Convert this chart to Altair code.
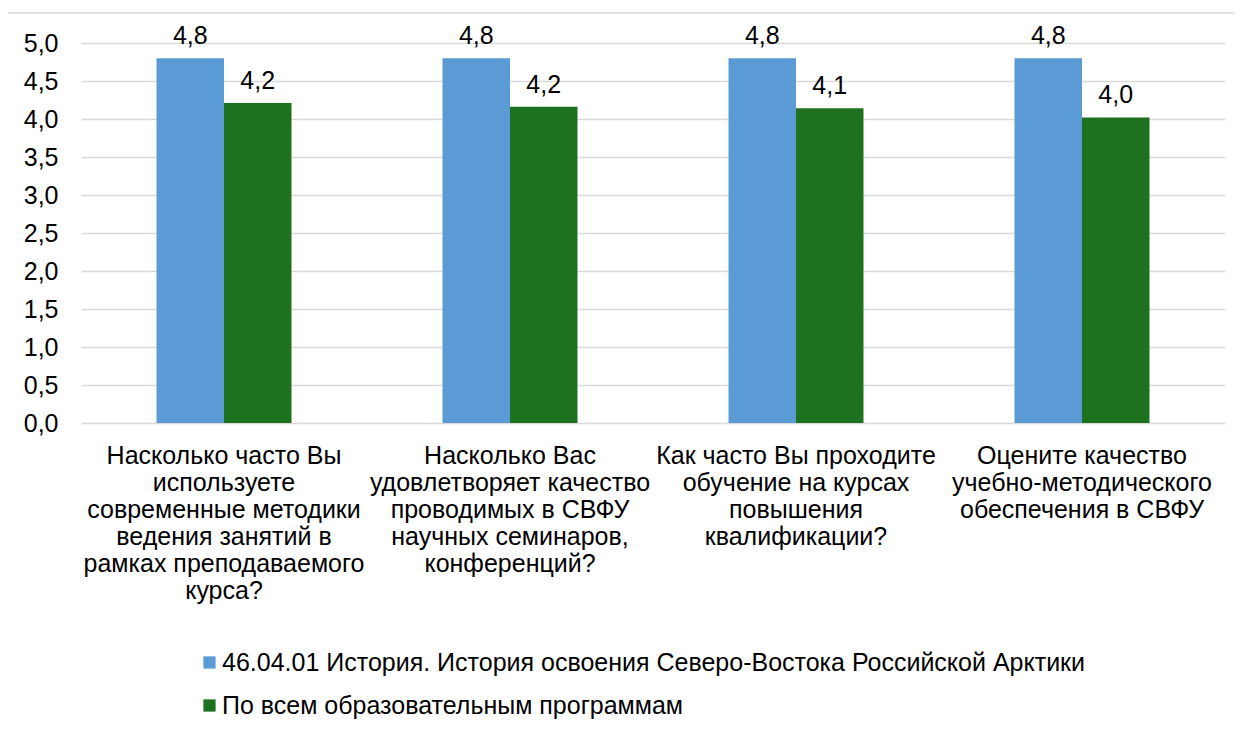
import altair as alt
import pandas as pd

categories = [
    "Насколько часто Вы\nиспользуете\nсовременные методики\nведения занятий в\nрамках преподаваемого\nкурса?",
    "Насколько Вас\nудовлетворяет качество\nпроводимых в СВФУ\nнаучных семинаров,\nконференций?",
    "Как часто Вы проходите\nобучение на курсах\nповышения\nквалификации?",
    "Оцените качество\nучебно-методического\nобеспечения в СВФУ",
]
series = [
    "46.04.01 История. История освоения Северо-Востока Российской Арктики",
    "По всем образовательным программам",
]
values_program = [4.8, 4.8, 4.8, 4.8]
values_all = [4.21, 4.16, 4.14, 4.02]
colors = ["#5B9BD5", "#1E711F"]
y_ticks = [0, 0.5, 1, 1.5, 2, 2.5, 3, 3.5, 4, 4.5, 5]

rows = []
for c, a, b in zip(categories, values_program, values_all):
    rows.append({"cat": c, "series": series[0], "value": a})
    rows.append({"cat": c, "series": series[1], "value": b})
df = pd.DataFrame(rows)

FONT = "Liberation Sans"
FS = 25

y_axis = alt.Axis(title=None, values=y_ticks, labelOverlap=False,
                  labelExpr="replace(format(datum.value, '.1f'), '.', ',')",
                  labelFont=FONT, labelFontSize=FS, labelColor="#000000",
                  labelPadding=23, domain=False, ticks=False,
                  gridColor="#d9d9d9", gridWidth=1.3)

base = alt.Chart(df).encode(
    x=alt.X("cat:N", sort=categories,
            scale=alt.Scale(paddingInner=0.528, paddingOuter=0.264),
            axis=alt.Axis(title=None, labelAngle=0, labelExpr="split(datum.label, '\\n')",
                          labelFont=FONT, labelFontSize=FS, labelColor="#000000",
                          labelLineHeight=27, labelPadding=20, labelLimit=0,
                          domain=False, ticks=False, grid=False, labelBaseline="top")),
    xOffset=alt.XOffset("series:N", sort=series,
                        scale=alt.Scale(paddingInner=0, paddingOuter=0)),
    y=alt.Y("value:Q", scale=alt.Scale(domain=[0, 5], nice=False), axis=y_axis),
)

bars = base.mark_bar().encode(
    color=alt.Color("series:N", sort=series,
                    scale=alt.Scale(domain=series, range=colors),
                    legend=alt.Legend(title=None, orient="none", legendX=116, legendY=607,
                                      direction="vertical", symbolType="square",
                                      symbolSize=150, symbolStrokeWidth=0,
                                      labelFont=FONT, labelFontSize=FS, labelColor="#000000",
                                      labelOffset=0, rowPadding=17, labelLimit=0)),
)

labels = base.transform_calculate(
    label="replace(format(datum.value, '.1f'), '.', ',')"
).mark_text(font=FONT, fontSize=FS, color="#000000", baseline="bottom", dy=-9).encode(
    text="label:N",
)

border = alt.Chart(pd.DataFrame({"a": [0]})).mark_rect(
    fill=None, stroke="#d9d9d9", strokeWidth=1.5
).encode(
    x=alt.value(-74), x2=alt.value(1159), y=alt.value(-30), y2=alt.value(720)
)

chart = alt.layer(border, bars, labels).properties(
    width=1144, height=380,
    background="#ffffff",
    autosize=alt.AutoSizeParams(type="none"),
    padding={"left": 73, "top": 35, "right": 10, "bottom": 300},
).configure_view(stroke=None)

chart.save("out.html", embed_options={"renderer": "svg", "actions": False})
